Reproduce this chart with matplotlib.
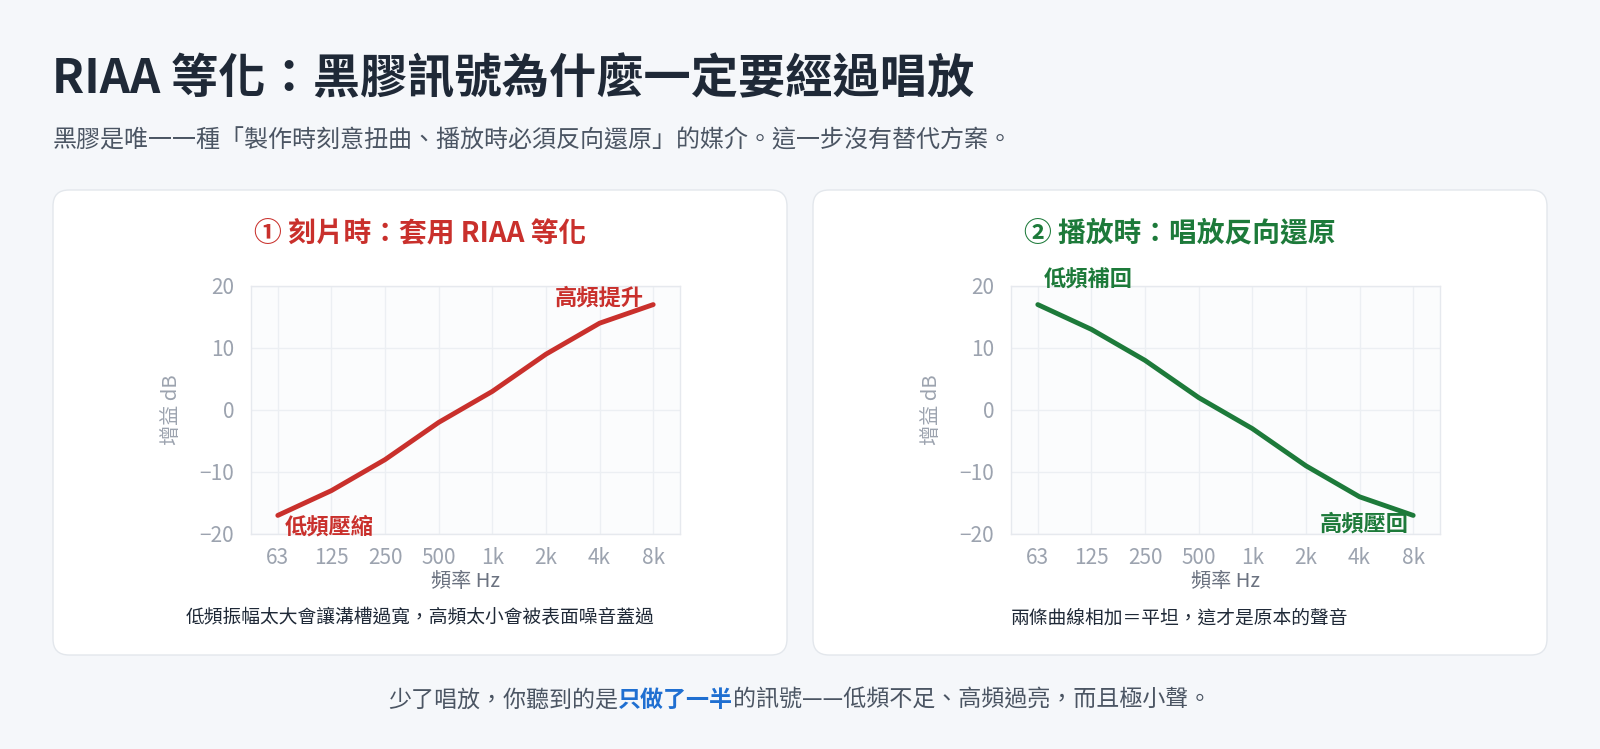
import matplotlib
matplotlib.use('Agg')
import matplotlib.pyplot as plt
from matplotlib.patches import FancyBboxPatch

plt.rcParams['font.family'] = ['Noto Sans CJK TC', 'DejaVu Sans']
plt.rcParams['axes.unicode_minus'] = True

# data
freq_labels = ['63', '125', '250', '500', '1k', '2k', '4k', '8k']
cut_gain = [-17, -13, -8, -2, 3, 9, 14, 17]
play_gain = [17, 13, 8, 2, -3, -9, -14, -17]
y_ticks = [-20, -10, 0, 10, 20]

title = 'RIAA 等化：黑膠訊號為什麼一定要經過唱放'
subtitle = '黑膠是唯一一種「製作時刻意扭曲、播放時必須反向還原」的媒介。這一步沒有替代方案。'
panel_titles = ['① 刻片時：套用 RIAA 等化', '② 播放時：唱放反向還原']
captions = ['低頻振幅太大會讓溝槽過寬，高頻太小會被表面噪音蓋過',
            '兩條曲線相加＝平坦，這才是原本的聲音']
footer_parts = ['少了唱放，你聽到的是', '只做了一半', '的訊號——低頻不足、高頻過亮，而且極小聲。']

RED = '#c9302c'
GREEN = '#1d7a3a'
BLUE = '#1f6fd1'
W, H = 1600, 749

fig = plt.figure(figsize=(W / 100, H / 100), dpi=100)
fig.patch.set_facecolor('#f5f7fa')

# pixel-space background axes
bg = fig.add_axes([0, 0, 1, 1], zorder=0)
bg.set_xlim(0, W)
bg.set_ylim(H, 0)
bg.axis('off')

bg.text(52, 79, title, fontsize=34, fontweight='bold', color='#1f2937',
        va='center', ha='left')
bg.text(53, 140, subtitle, fontsize=17.3, color='#4b5563', va='center', ha='left')

cards = [(53, 787), (813, 1547)]
colors = [RED, GREEN]
for (x0, x1), pt, cap, c in zip(cards, panel_titles, captions, colors):
    card = FancyBboxPatch((x0, 190), x1 - x0, 465,
                          boxstyle='round,pad=0,rounding_size=16',
                          facecolor='white', edgecolor='#e3e7ec', linewidth=1)
    bg.add_patch(card)
    cx = (x0 + x1) / 2
    bg.text(cx, 233, pt, fontsize=20, fontweight='bold', color=c,
            ha='center', va='center')
    bg.text(cx, 618, cap, fontsize=13.5, color='#1f2937', ha='center', va='center')

# footer with a highlighted part
fig.canvas.draw()
renderer = fig.canvas.get_renderer()
styles = [dict(color='#4b5563'), dict(color=BLUE, fontweight='bold'),
          dict(color='#4b5563')]
pieces = []
for part, st in zip(footer_parts, styles):
    t = bg.text(0, 700, part, fontsize=16.6, ha='left', va='center', **st)
    pieces.append(t)
widths = [t.get_window_extent(renderer).width for t in pieces]
x = W / 2 - sum(widths) / 2
for t, w in zip(pieces, widths):
    t.set_x(x)
    x += w

# the two charts
xs = list(range(len(freq_labels)))
series = [cut_gain, play_gain]
ax_left = [251, 1011]
notes = [
    [(0.13, -18.8, '低頻壓縮', 'left'), (6.83, 18.0, '高頻提升', 'right')],
    [(0.11, 20.9, '低頻補回', 'left'), (6.92, -18.4, '高頻壓回', 'right')],
]
for left, vals, c, nts in zip(ax_left, series, colors, notes):
    ax = fig.add_axes([left / W, 1 - 534 / H, 429 / W, 248 / H], zorder=2)
    ax.set_facecolor('#fbfcfd')
    ax.plot(xs, vals, color=c, linewidth=3.5, solid_capstyle='round',
            solid_joinstyle='round', zorder=3)
    ax.set_xlim(-0.5, len(xs) - 0.5)
    ax.set_ylim(-20, 20)
    ax.set_xticks(xs)
    ax.set_xticklabels(freq_labels)
    ax.set_yticks(y_ticks)
    ax.grid(True, color='#eceff3', linewidth=1)
    ax.set_axisbelow(True)
    for s in ax.spines.values():
        s.set_color('#e6e9ee')
        s.set_linewidth(1)
    ax.tick_params(length=0, labelsize=15, labelcolor='#9ca3af')
    ax.tick_params(axis='y', pad=12)
    ax.tick_params(axis='x', pad=9)
    ax.set_xlabel('頻率 Hz', fontsize=14.5, color='#6b7280', labelpad=2)
    ax.set_ylabel('增益 dB', fontsize=14.5, color='#9ca3af', labelpad=13)
    for nx, ny, txt, ha in nts:
        ax.text(nx, ny, txt, fontsize=16, fontweight='bold', color=c,
                ha=ha, va='center', clip_on=False, zorder=4)

fig.savefig('out.png', dpi=100, facecolor=fig.get_facecolor())
